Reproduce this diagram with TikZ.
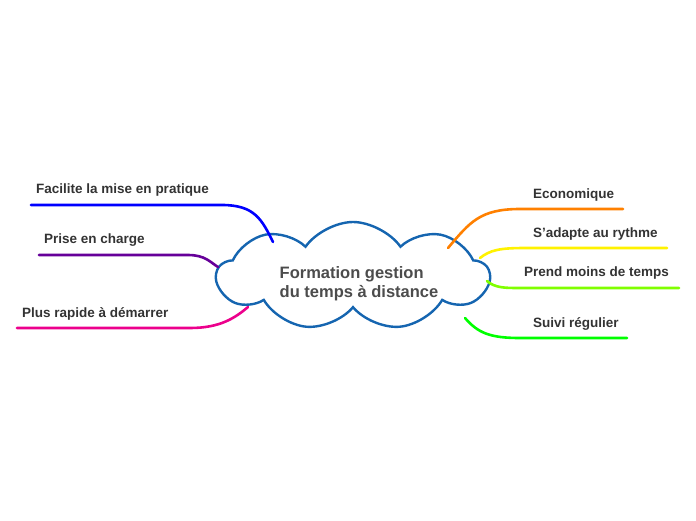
\documentclass[tikz,border=0pt]{standalone}
\usepackage{fontspec}
\setmainfont{Liberation Sans}
\usetikzlibrary{shapes.symbols}
\definecolor{cloudc}{HTML}{1565B0}
\definecolor{txt}{HTML}{333333}
\tikzset{br/.style={line width=2.6pt,line cap=round},
lab/.style={font=\bfseries\fontsize{13.5}{15}\selectfont,text=txt,anchor=west,inner sep=0pt}}
\begin{document}
\begin{tikzpicture}[x=1pt,y=-1pt]
\useasboundingbox (0,0) rectangle (696,520);
\node[cloud,cloud puffs=9,cloud puff arc=110,draw=cloudc,line width=2.4pt,fill=white,minimum width=272pt,minimum height=108pt,aspect=2.6] (c) at (353,276) {};
\node[align=left,font=\bfseries\fontsize{16.5}{19}\selectfont,text=black!70] (ct) at (359,284) {Formation gestion\\du temps à distance};
\coordinate (c1) at (273,242);\coordinate (c2) at (218,267);\coordinate (c3) at (248,307);
\coordinate (d1) at (448,248);\coordinate (d2) at (480,258);\coordinate (d3) at (487,281);\coordinate (d4) at (465,318);
\coordinate (e1) at (31,205);\coordinate (e2) at (39,255);\coordinate (e3) at (17,328);
\coordinate (f1) at (623,209);\coordinate (f2) at (667,248);\coordinate (f3) at (679,288);\coordinate (f4) at (627,338);
\draw[br,blue] (e1) -- (222,205) .. controls (255,205) and (262,220) .. (c1);
\draw[br,violet!80!blue] (e2) -- (188,255) .. controls (205,255) and (210,262) .. (c2);
\draw[br,magenta] (e3) -- (190,328) .. controls (220,328) and (235,318) .. (c3);
\draw[br,orange] (d1) .. controls (470,222) and (480,209) .. (520,209) -- (f1);
\draw[br,yellow] (d2) .. controls (490,250) and (500,248) .. (525,248) -- (f2);
\draw[br,green!50!yellow] (d3) .. controls (495,288) and (505,288) .. (520,288) -- (f3);
\draw[br,green] (d4) .. controls (478,333) and (490,338) .. (520,338) -- (f4);
\node[lab] (t1) at (36,190) {Facilite la mise en pratique};
\node[lab] (t2) at (44,240) {Prise en charge};
\node[lab] (t3) at (22,314) {Plus rapide à démarrer};
\node[lab] (t4) at (533,195) {Economique};
\node[lab] (t5) at (533,234) {S'adapte au rythme};
\node[lab] (t6) at (524,273) {Prend moins de temps};
\node[lab] (t7) at (533,324) {Suivi régulier};
\end{tikzpicture}
\end{document}
